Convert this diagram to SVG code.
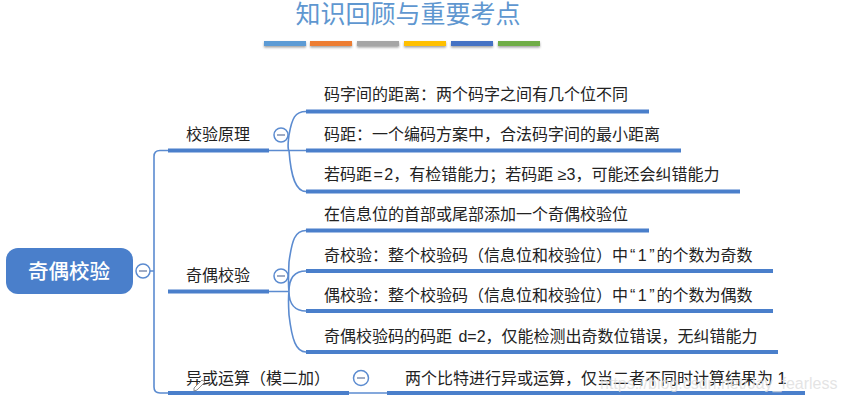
<svg xmlns="http://www.w3.org/2000/svg" width="844" height="402" viewBox="0 0 844 402">
<style>
text{font-family:"Liberation Sans","Noto Sans CJK SC",sans-serif;fill:#222}
.t{font-size:16px}
.l{font-size:16px}
.thin{fill:none;stroke:#5b8bd0;stroke-width:1.6}
.thick{fill:none;stroke:#4a7fcb;stroke-width:4}
.c{fill:#fff;stroke:#5b8bd0;stroke-width:1.5}
.m{stroke:#7f8fb0;stroke-width:1.5}
.bar{filter:url(#s)}
</style>
<defs><filter id="s" x="-10%" y="-50%" width="120%" height="250%"><feDropShadow dx="0" dy="1.5" stdDeviation="0.8" flood-color="#777" flood-opacity=".7"/></filter></defs>
<rect width="844" height="402" fill="#fff"/>
<g id="title">
<text x="408" y="23" text-anchor="middle" style="font-size:25px;fill:#5f97d0">知识回顾与重要考点</text>
<rect class="bar" x="264" y="41" width="42" height="5" fill="#5b9bd5"/>
<rect class="bar" x="310" y="41" width="42" height="5" fill="#ed7d31"/>
<rect class="bar" x="357" y="41" width="42" height="5" fill="#a5a5a5"/>
<rect class="bar" x="404" y="41" width="42" height="5" fill="#ffc000"/>
<rect class="bar" x="451" y="41" width="42" height="5" fill="#4472c4"/>
<rect class="bar" x="498" y="41" width="42" height="5" fill="#70ad47"/>
</g>
<g id="connectors">
<path class="thin" d="M150 271H154M168 150.500H160Q154 150.500 154 156.500V387Q154 393 160 393H168"/>
<path class="thin" d="M269 150.500H306M306 111.500C295 111.500 292 118 289 135C287 150 289 150.500 289 150.500C291 178 296 191.500 306 191.500"/>
<path class="thin" d="M269 291.500H289M306 230.500C295 230.500 292 240 289 262C288 285 289 291.500 289 291.500M306 271C295 271 289 278 289 291.500M306 311C295 311 289 304 289 291.500M306 352C296 352 292 340 289 315C288 298 289 291.500 289 291.500"/>
<path class="thin" d="M349 393H387"/>
<path class="thick" d="M168 150.500H269M168 291.500H269M168 393H349M387 393H805"/>
<path class="thick" d="M306 111.500H649M306 150.500H681M306 191.500H740M306 230.500H649M306 271H773M306 311H773M306 352H778"/>
</g>
<g id="root">
<rect x="6" y="248" width="127" height="46" rx="12" fill="#4a7fcb"/>
<text x="69" y="279" text-anchor="middle" style="font-size:20.500px;font-weight:500;fill:#fff">奇偶校验</text>
<circle class="c" cx="143" cy="271" r="7"/><path class="m" d="M139 271H147"/>
</g>
<g id="n1"><text class="t" x="186" y="140">校验原理</text><circle class="c" cx="281" cy="135" r="7"/><path class="m" d="M277 135H285"/></g>
<g id="n2"><text class="t" x="186" y="281">奇偶校验</text><circle class="c" cx="281" cy="276" r="7"/><path class="m" d="M277 276H285"/></g>
<g id="n3"><text class="t" x="186" y="384">异或运算（模二加）</text><circle class="c" cx="361" cy="378" r="7.500"/><path class="m" d="M357 378H365"/></g>
<g id="leaf1"><text class="l" x="324" y="100">码字间的距离：两个码字之间有几个位不同</text></g>
<g id="leaf2"><text class="l" x="324" y="140">码距：一个编码方案中，合法码字间的最小距离</text></g>
<g id="leaf3"><text class="l" x="324" y="180">若码距<tspan dx="1.500">=</tspan><tspan dx="1.500">2</tspan>，有检错能力；若码距 ≥3，可能还会纠错能力</text></g>
<g id="leaf4"><text class="l" x="324" y="220">在信息位的首部或尾部添加一个奇偶校验位</text></g>
<g id="leaf5"><text class="l" x="324" y="261">奇校验：整个校验码（信息位和校验位）中<tspan dx="2">“</tspan><tspan dx="2.500">1</tspan><tspan dx="2.500">”</tspan><tspan dx="2">的</tspan>个数为奇数</text></g>
<g id="leaf6"><text class="l" x="324" y="301">偶校验：整个校验码（信息位和校验位）中<tspan dx="2">“</tspan><tspan dx="2.500">1</tspan><tspan dx="2.500">”</tspan><tspan dx="2">的</tspan>个数为偶数</text></g>
<g id="leaf7"><text class="l" x="324" y="342">奇偶校验码的码距 <tspan dx="2">d=2</tspan>，仅能检测出奇数位错误，无纠错能力</text></g>
<g id="leaf8"><text class="l" x="405" y="384">两个比特进行异或运算，仅当二者不同时计算结果为 1</text></g>
<path d="M194 388L202 380L205 382L197 390L194 391Z" fill="#fff" stroke="#777" stroke-width=".8"/>
<text x="600" y="389" style="font-size:16px;fill:#ddd;fill-opacity:.8">https://blog.csdn.net/Jay_fearless</text>
</svg>
